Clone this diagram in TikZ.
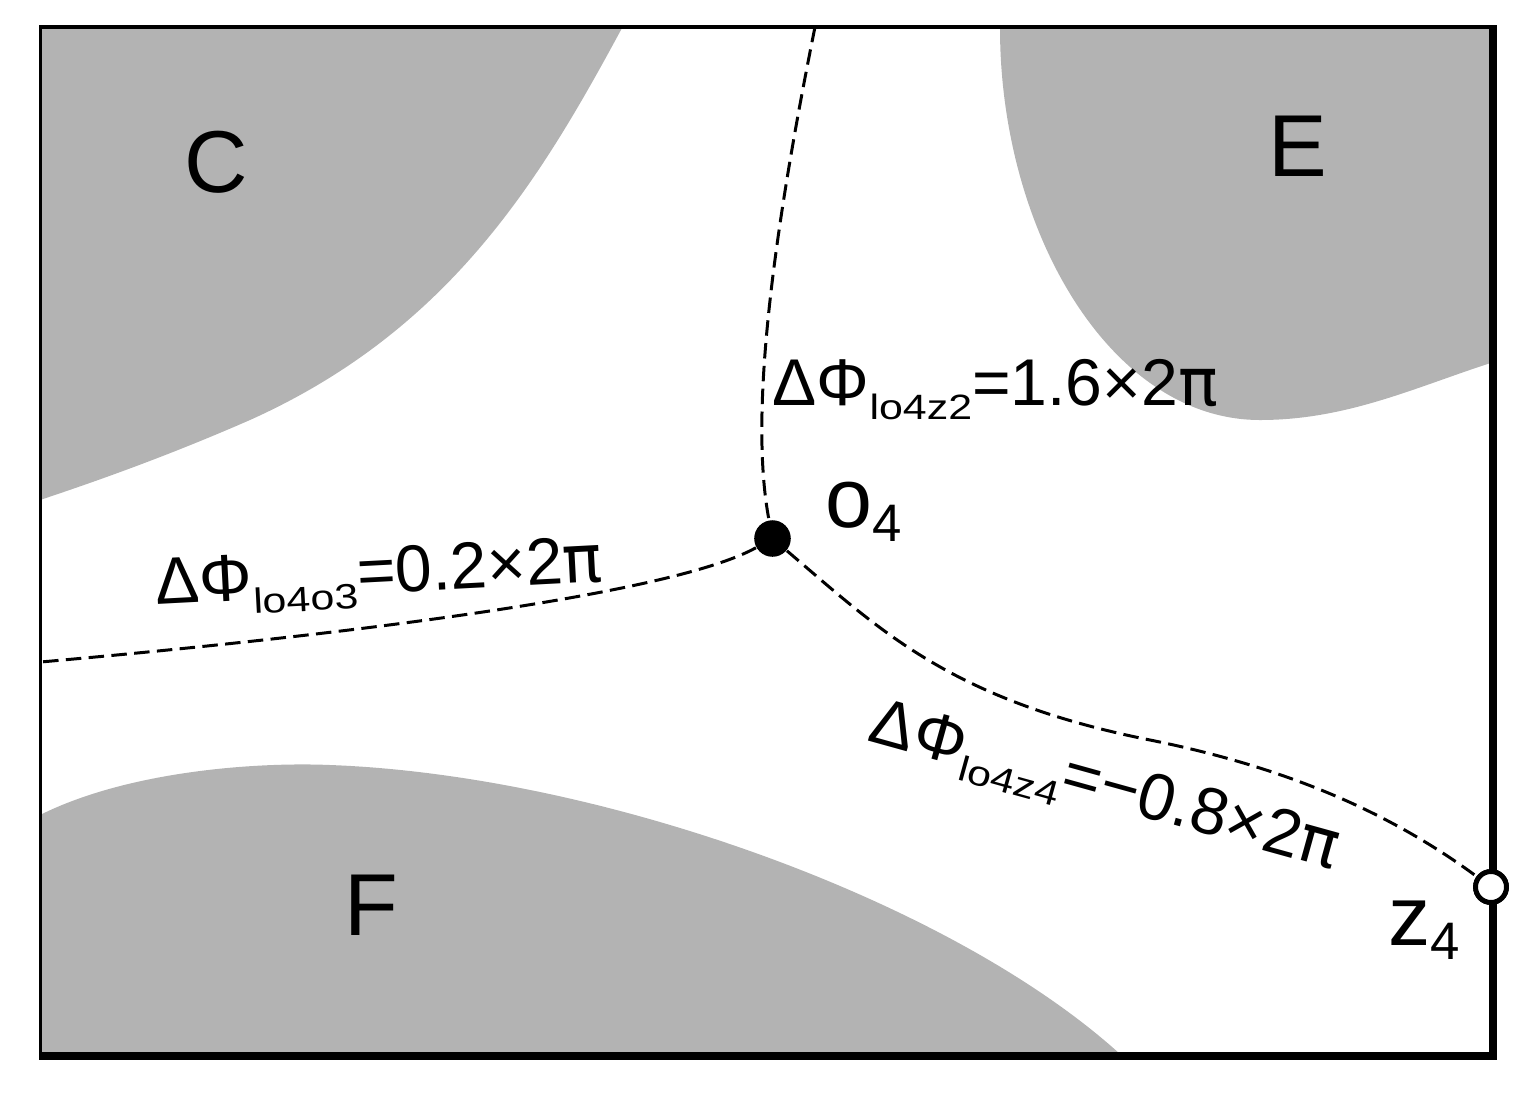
\documentclass[tikz,border=0pt]{standalone}
\usepackage{fontspec}
\setmainfont{Liberation Sans}
\newfontfamily\pifont{DejaVu Sans}
\definecolor{regiongray}{RGB}{179,179,179}
\newcommand{\lsub}[1]{\raisebox{-4pt}{\scalebox{1.22}[1]{\fontsize{10}{12}\selectfont #1}}}
\newcommand{\bsub}[1]{\raisebox{-4.2pt}{\fontsize{15}{18}\selectfont #1}}
\newcommand{\mypi}{{\pifont π}}
\begin{document}
\begin{tikzpicture}[x=0.01cm,y=-0.01cm,
  regionfill/.style={fill=regiongray,draw=none},
  bigletter/.style={font=\fontsize{25}{30}\selectfont,inner sep=0pt,anchor=base},
  ptlabel/.style={font=\fontsize{24}{28}\selectfont,inner sep=0pt,anchor=base west},
  lbl/.style={font=\fontsize{18.8}{22}\selectfont,inner sep=0pt,anchor=base west},
  dashcurve/.style={line width=0.85pt,dash pattern=on 4.4pt off 2.1pt},
  dotnode/.style={circle,fill=black,inner sep=0pt,minimum size=10.4pt},
  opennode/.style={circle,draw=black,fill=white,line width=1.4pt,inner sep=0pt,minimum size=8.8pt}]
\useasboundingbox (0,0) rectangle (1532,1096);
\begin{scope}
  \clip (40.5,27) rectangle (1493,1056);
  \fill[regionfill] (40,20) -- (622,20) -- (622,28) .. controls (540,180) and (450,330) .. (250,420)
        .. controls (170,455) and (100,480) .. (40,500) -- cycle;
  \fill[regionfill] (1000,20) -- (1000,28) .. controls (1000,230) and (1110,420) .. (1260,420)
        .. controls (1350,420) and (1420,385) .. (1500,360) -- (1500,20) -- cycle;
  \fill[regionfill] (30,820) -- (40,815) .. controls (130,770) and (260,762) .. (330,765)
        .. controls (600,775) and (950,900) .. (1120,1054) -- (1130,1065) -- (30,1065) -- cycle;
\end{scope}
% frame
\draw[line width=1.1pt] (40.5,1056) -- (40.5,27) -- (1493,27);
\draw[line width=2pt] (1493,25) -- (1493,1056) -- (39,1056);
% points
\node[dotnode] (o4) at (772.5,538.5) {};
\node[opennode] (z4) at (1491,887) {};
\coordinate (topend) at (815,27);
\coordinate (leftend) at (40.5,662);
% dashed curves
\draw[dashcurve] (topend) .. controls (770,250) and (750,420) .. (o4);
\draw[dashcurve] (o4) .. controls (680,590) and (400,630) .. (leftend);
\draw[dashcurve] (o4) .. controls (880,630) and (950,700) .. (1150,740)
      .. controls (1300,770) and (1400,820) .. (z4);
\node[opennode] at (z4) {};
% region letters
\node[bigletter] (lC) at (216,192) {C};
\node[bigletter] (lE) at (1298,176) {E};
\node[bigletter] (lF) at (371,935) {F};
% point labels
\node[ptlabel] (to4) at (825,527) {o\bsub{4}};
\node[ptlabel] (tz4) at (1388,945) {z\bsub{4}};
% phase labels
\node[lbl] (p1) at (772,405) {ΔΦ\lsub{lo4z2}=1.6×2\mypi};
\node[lbl,rotate=3] (p2) at (156,605) {ΔΦ\lsub{lo4o3}=0.2×2\mypi};
\node[lbl,rotate=-15.5] (p3) at (866,740) {ΔΦ\lsub{lo4z4}=−0.8×2\mypi};
\end{tikzpicture}
\end{document}
